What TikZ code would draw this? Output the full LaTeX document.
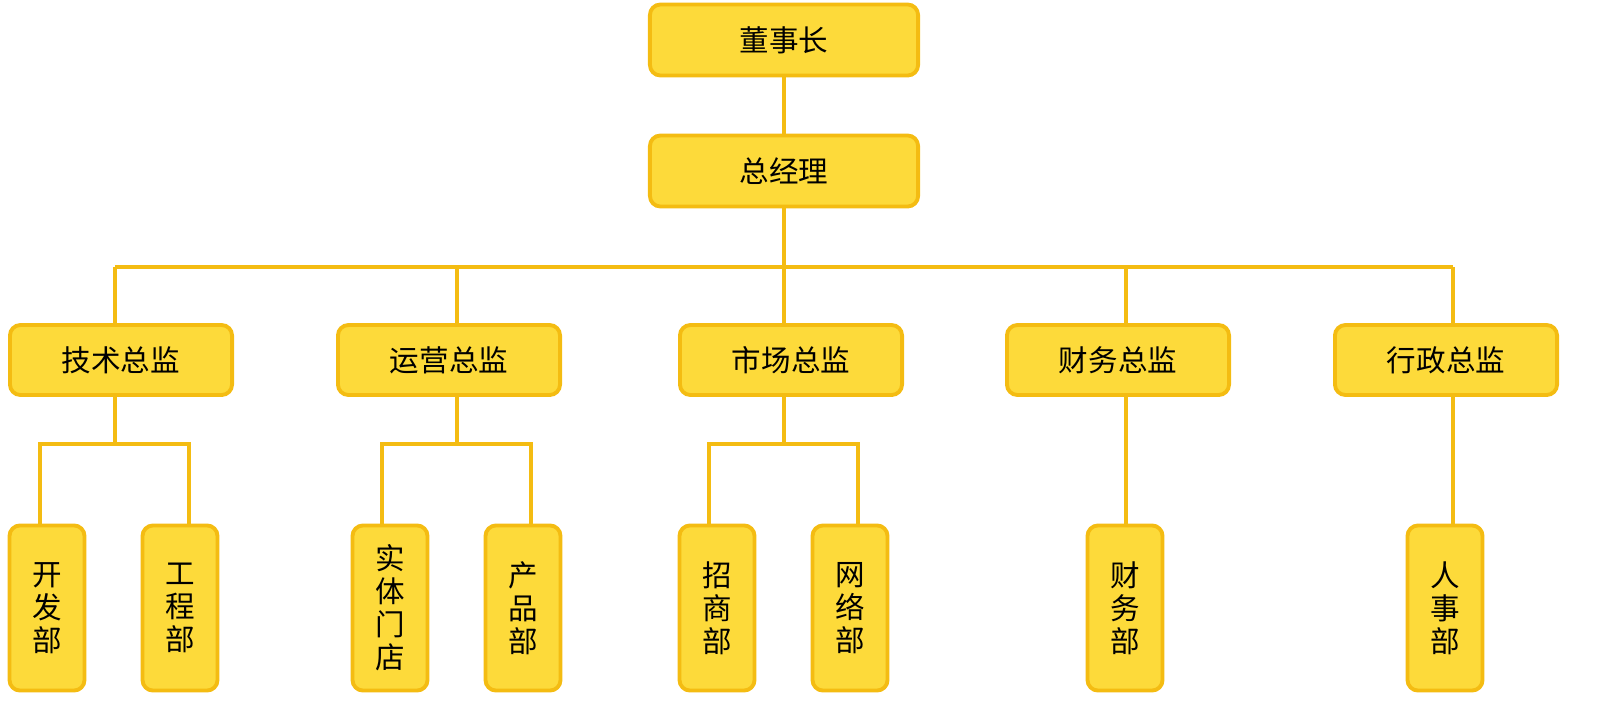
\documentclass[tikz,border=0pt]{standalone}
\usepackage{fontspec}
\setmainfont{Noto Sans CJK SC}
\usetikzlibrary{calc}
\usetikzlibrary{positioning}
\definecolor{boxfill}{HTML}{FDDA3A}
\definecolor{boxline}{HTML}{F4BC12}
\tikzset{
  box/.style={draw=boxline, fill=boxfill, line width=1.1pt, rounded corners=3pt,
    minimum width=2.68cm, minimum height=0.71cm, font=\fontsize{8.4pt}{10pt}\selectfont, inner sep=0pt},
  head/.style={box, minimum width=2.22cm, minimum height=0.70cm},
  dept/.style={box, minimum width=0.75cm, minimum height=1.65cm, align=center,
    font=\fontsize{8.4pt}{9.4pt}\selectfont},
  link/.style={draw=boxline, line width=1.2pt}
}
\begin{document}
\begin{tikzpicture}[x=0.01cm, y=-0.01cm]
            % top
            \node[box] (chair) at (784,40) {董事长};
            \node[box] (gm) at (784,171) {总经理};

            % directors
            \node[head] (tech) at (121,360) {技术总监};
            \node[head] (ops) at (449,360) {运营总监};
            \node[head] (mkt) at (791,360) {市场总监};
            \node[head] (fin) at (1118,360) {财务总监};
            \node[head] (adm) at (1446,360) {行政总监};

            % departments
            \node[dept] (dev) at (47,608) {开\\发\\部};
            \node[dept] (eng) at (180,608) {工\\程\\部};
            \node[dept] (store) at (390,608) {实\\体\\门\\店};
            \node[dept] (prod) at (523,608) {产\\品\\部};
            \node[dept] (biz) at (717,608) {招\\商\\部};
            \node[dept] (net) at (850,608) {网\\络\\部};
            \node[dept] (acct) at (1125,608) {财\\务\\部};
            \node[dept] (hr) at (1445,608) {人\\事\\部};

            % connectors
            \draw[link] (chair) -- (gm);
            \coordinate (bus) at (784,267);
            \draw[link] (gm) -- (bus);
            \draw[link] (115,267) -- (1453,267);
            \foreach \x in {115, 457, 784, 1126, 1453}
              \draw[link] (\x,267) -- (\x,325);

            \foreach \x/\a/\b in {115/40/189, 457/382/531, 784/709/858} {
              \draw[link] (\x,395) -- (\x,444);
              \draw[link] (\a,526) -- (\a,444) -- (\b,444) -- (\b,526);
            }
            \draw[link] (1126,395) -- (1126,526);
            \draw[link] (1453,395) -- (1453,526);

            \pgfresetboundingbox
            \useasboundingbox (0,0) rectangle (1600,712);
        \end{tikzpicture}
\end{document}
